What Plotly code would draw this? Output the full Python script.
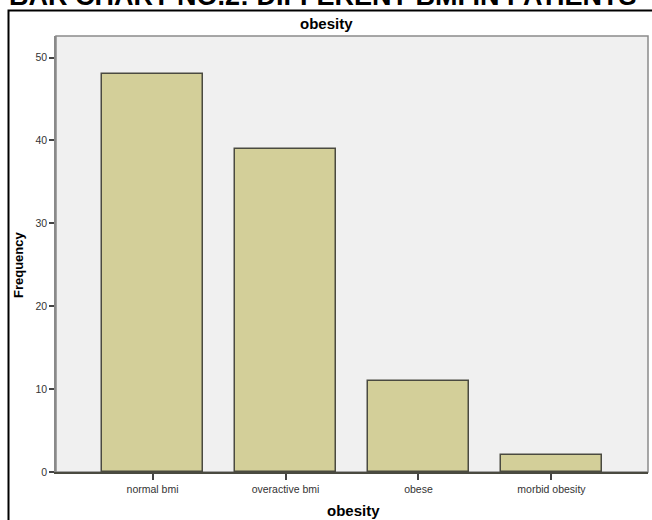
import plotly.graph_objects as go

categories = ["normal bmi", "overactive bmi", "obese", "morbid obesity"]
frequency = [48, 39, 11, 2]
y_ticks = [0, 10, 20, 30, 40, 50]

W, H = 652, 520
L, R, T, B = 56, 4, 36, 48
pw, ph = W - L - R, H - T - B

def px_x(x):
    return (x - L) / pw

def px_y(y):
    return (H - B - y) / ph

fig = go.Figure(go.Bar(
    x=list(range(len(categories))), y=frequency,
    width=0.76,
    marker=dict(color="#d3cf99", line=dict(color="#4a4a40", width=1.5)),
    hoverinfo="skip",
))

fig.update_layout(
    width=W, height=H,
    margin=dict(l=L, r=R, t=T, b=B, pad=0),
    paper_bgcolor="white", plot_bgcolor="#f0f0f0",
    font=dict(family="Liberation Sans, Arial, sans-serif", color="#333"),
    showlegend=False,
    bargap=0,
)
fig.update_xaxes(
    range=[-0.726, 3.726],
    tickmode="array", tickvals=list(range(len(categories))), ticktext=categories,
    ticks="outside", ticklen=6, tickwidth=1.5, tickcolor="#444",
    showline=True, linecolor="#4a4a40", linewidth=2,
    showgrid=False, zeroline=False,
    tickfont=dict(size=10.5, color="#333"),
)
fig.update_yaxes(
    range=[0, 52.6], tickvals=y_ticks,
    ticks="outside", ticklen=5, tickwidth=1.5, tickcolor="#444",
    showline=True, linecolor="#8a8a8a", linewidth=1.5,
    showgrid=False, zeroline=False,
    tickfont=dict(size=10.5, color="#333"),
)

shapes = [
    dict(type="rect", xref="paper", yref="paper", x0=0, x1=1, y0=0, y1=1,
         line=dict(color="#8a8a8a", width=1.5), layer="below"),
    dict(type="rect", xref="paper", yref="paper",
         x0=px_x(8.5), x1=px_x(665), y0=px_y(535), y1=px_y(10.5),
         line=dict(color="black", width=2)),
]
fig.update_layout(shapes=shapes)

annotations = [
    dict(text="<b>BAR CHART NO.2: DIFFERENT BMI IN PATIENTS</b>", xref="paper", yref="paper",
         x=px_x(323), y=px_y(13), xanchor="center", yanchor="bottom", showarrow=False,
         font=dict(size=27, color="black", family="Liberation Sans, Arial, sans-serif"),
         ),
    dict(text="<b>obesity</b>", xref="paper", yref="paper",
         x=px_x(326), y=px_y(24), xanchor="center", yanchor="middle", showarrow=False,
         font=dict(size=15, color="black")),
    dict(text="<b>obesity</b>", xref="paper", yref="paper",
         x=px_x(353), y=px_y(510), xanchor="center", yanchor="middle", showarrow=False,
         font=dict(size=15, color="black")),
    dict(text="<b>Frequency</b>", xref="paper", yref="paper",
         x=px_x(18), y=px_y(265), xanchor="center", yanchor="middle", showarrow=False,
         textangle=-90, font=dict(size=13, color="black")),
]
fig.update_layout(annotations=annotations)

fig.write_html("out.html",
               config={"displayModeBar": False},
               post_script="document.body.style.margin='0';document.body.style.overflow='hidden';")
